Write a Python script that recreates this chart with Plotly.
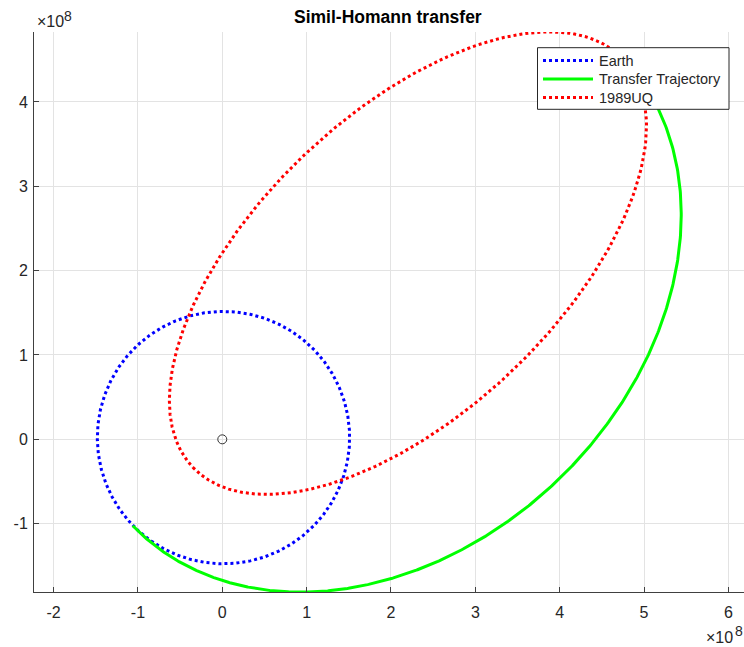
import numpy as np
import plotly.graph_objects as go

# ---- data: orbital elements (distances in km) ----
ORBIT_NAMES = ["Earth", "Transfer Trajectory", "1989UQ"]
SEMI_MAJOR_KM = [1.496e8, 4.02e8, 3.516e8]
ECCENTRICITY = [0.0167, 0.633, 0.863]
ARG_PERIAPSIS_DEG = [235.0, 224.0, 223.5]
TRUE_ANOMALY_START_DEG = [0.0, 0.0, 0.0]
TRUE_ANOMALY_END_DEG = [360.0, 180.0, 360.0]
LINE_COLORS = ["#0000ff", "#00ff00", "#ff0000"]
LINE_DASH = ["3px,3px", "solid", "3px,3px"]

SUN_X = [0.0]
SUN_Y = [0.0]

X_TICK_VALUES = [-2e8, -1e8, 0, 1e8, 2e8, 3e8, 4e8, 5e8, 6e8]
X_TICK_LABELS = ["-2", "-1", "0", "1", "2", "3", "4", "5", "6"]
Y_TICK_VALUES = [-1e8, 0, 1e8, 2e8, 3e8, 4e8]
Y_TICK_LABELS = ["-1", "0", "1", "2", "3", "4"]
EXPONENT_BASE = "×10"
EXPONENT = "8"

X_RANGE = [-2.232e8, 6.185e8]
Y_RANGE = [-1.810e8, 4.829e8]

FONT = "Liberation Sans, Arial, Helvetica, sans-serif"
AX = "#404040"
TXT = "#262626"

# plot-area geometry in pixels (for placing the legend box)
L, T, W, H = 34, 32, 710, 560


def px(xpix):
    return (xpix - L) / W


def py(ypix):
    return (T + H - ypix) / H


fig = go.Figure()

for name, a, e, w, n0, n1, col, dash in zip(ORBIT_NAMES, SEMI_MAJOR_KM, ECCENTRICITY,
                                           ARG_PERIAPSIS_DEG, TRUE_ANOMALY_START_DEG,
                                           TRUE_ANOMALY_END_DEG, LINE_COLORS, LINE_DASH):
    nu = np.radians(np.linspace(n0, n1, 721))
    r = a * (1 - e ** 2) / (1 + e * np.cos(nu))
    th = nu + np.radians(w)
    fig.add_trace(go.Scatter(
        x=r * np.cos(th), y=r * np.sin(th), mode="lines", name=name,
        line=dict(color=col, width=3, dash=dash), showlegend=False,
    ))

fig.add_trace(go.Scatter(
    x=SUN_X, y=SUN_Y, mode="markers", showlegend=False,
    marker=dict(symbol="circle-open", size=9, color="#333333", line=dict(width=1, color="#333333")),
))

# ---- legend box (MATLAB style, compact rows) ----
shapes = [dict(type="rect", xref="paper", yref="paper",
               x0=px(537.5), x1=px(729), y0=py(109.3), y1=py(47.7),
               fillcolor="white", line=dict(color=TXT, width=1), layer="above")]
annotations = []
row_y = [60.5, 79, 97.5]
for name, col, dash, yy in zip(ORBIT_NAMES, LINE_COLORS, LINE_DASH, row_y):
    shapes.append(dict(type="line", xref="paper", yref="paper",
                       x0=px(543), x1=px(593), y0=py(yy), y1=py(yy),
                       line=dict(color=col, width=3, dash=dash), layer="above"))
    annotations.append(dict(text=name, xref="paper", yref="paper",
                            x=px(597), y=py(yy), xanchor="left", yanchor="middle",
                            showarrow=False, font=dict(family=FONT, size=14.5, color=TXT)))

annotations += [
    dict(text="<b>Simil-Homann transfer</b>", xref="paper", yref="paper",
         x=px(388), y=1, xanchor="center", yanchor="middle", yshift=15,
         showarrow=False, font=dict(family=FONT, size=17.5, color="#000000")),
    # exponent label above the y axis
    dict(text=EXPONENT_BASE, xref="paper", yref="paper",
         x=px(35), y=1, xanchor="left", yanchor="middle", yshift=11,
         showarrow=False, font=dict(family=FONT, size=16, color=TXT)),
    dict(text=EXPONENT, xref="paper", yref="paper",
         x=px(62), y=1, xanchor="left", yanchor="middle", yshift=16.5,
         showarrow=False, font=dict(family=FONT, size=14, color=TXT)),
    # exponent label below the x axis
    dict(text=EXPONENT_BASE, xref="paper", yref="paper",
         x=px(704), y=0, xanchor="left", yanchor="middle", yshift=-45,
         showarrow=False, font=dict(family=FONT, size=16, color=TXT)),
    dict(text=EXPONENT, xref="paper", yref="paper",
         x=px(732.5), y=0, xanchor="left", yanchor="middle", yshift=-39,
         showarrow=False, font=dict(family=FONT, size=14, color=TXT)),
]

fig.update_layout(
    width=744, height=647,
    margin=dict(l=L, r=744 - L - W, t=T, b=647 - T - H),
    paper_bgcolor="white", plot_bgcolor="white",
    font=dict(family=FONT, size=16, color=TXT),
    showlegend=False,
    xaxis=dict(
        range=X_RANGE, tickvals=X_TICK_VALUES, ticktext=X_TICK_LABELS,
        showgrid=True, gridcolor="#e3e3e3", gridwidth=1, zeroline=False,
        showline=True, linecolor=AX, linewidth=1, mirror=False,
        ticks="inside", ticklen=5, tickcolor=AX, tickwidth=1,
        tickfont=dict(size=16, color=TXT), ticklabelstandoff=6,
    ),
    yaxis=dict(
        range=Y_RANGE, tickvals=Y_TICK_VALUES, ticktext=Y_TICK_LABELS,
        showgrid=True, gridcolor="#e3e3e3", gridwidth=1, zeroline=False,
        showline=True, linecolor=AX, linewidth=1, mirror=False,
        ticks="inside", ticklen=5, tickcolor=AX, tickwidth=1,
        tickfont=dict(size=16, color=TXT), ticklabelstandoff=2,
    ),
    shapes=shapes,
    annotations=annotations,
)

fig.write_html("out.html")
